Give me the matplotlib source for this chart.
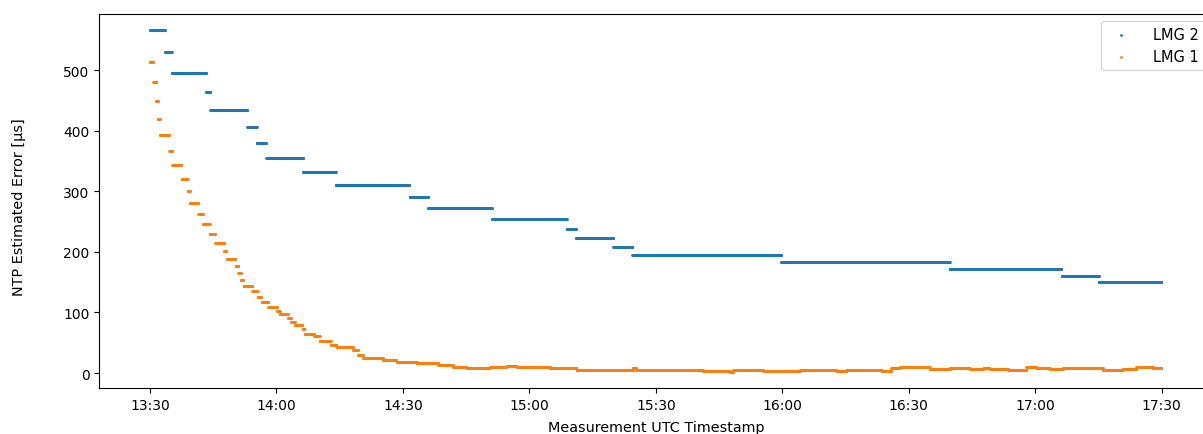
import numpy as np
import pandas as pd
import matplotlib
matplotlib.use("Agg")
import matplotlib.pyplot as plt
import matplotlib.dates as mdates

# step levels: minutes after 13:30 where each level starts, and its value [us]
lmg2_start = [0, 3.6, 5.2, 13.35, 14.35, 23.1, 25.35, 27.6, 36.35, 44.1, 61.6,
              66.0, 81.15, 98.9, 101.05, 109.95, 114.45, 149.75, 189.75, 216.25, 225.15]
lmg2_value = [565.5, 529, 495.5, 463.7, 433.5, 405.4, 379.5, 354.8, 331.7, 310.8, 290.4,
              271.8, 253.6, 238, 222, 208, 194.7, 182.6, 171, 159.6, 149.7]

lmg1_start = [0, 0.8, 1.5, 1.9, 2.4, 4.6, 5.3, 7.5, 9.0, 9.5, 11.5, 12.6, 14.2, 15.5,
              17.6, 18.2, 20.3, 21.0, 21.6, 22.2, 24.3, 25.6, 26.5, 28.1, 30.2, 30.8,
              32.8, 33.5, 34.4, 36.2, 36.7, 39.0, 40.3, 42.9, 44.3, 48.2, 49.4, 50.6,
              55.3, 58.5, 63.3, 68.4, 71.9, 75.1, 80.6, 84.6, 87.0, 94.9, 101.2, 114.6,
              115.4, 131.2, 137.6, 138.4, 145.5, 154.2, 162.9, 165.2, 173.6, 175.9,
              177.9, 185.0, 189.8, 194.5, 197.7, 199.2, 203.6, 207.9, 210.3, 213.5,
              216.6, 226.1, 230.8, 234.0, 237.9]
lmg1_value = [512.7, 479.7, 448.8, 419.6, 392.7, 366.8, 343.7, 320.6, 300.3, 280.5, 262.9,
              245.9, 230, 215, 200.8, 187.6, 176, 165, 154, 144, 134.8, 125.4, 117.7,
              109.4, 102.8, 96.8, 90.3, 84.6, 78.6, 72.6, 64.9, 61, 53.3, 46.7, 42.9,
              38, 29.7, 24.8, 21, 18.7, 16, 12.7, 10.4, 8.7, 10.4, 12, 9.9, 7.7, 5.5,
              7.7, 5.5, 3.8, 2.2, 5, 2.8, 4.4, 2.8, 5.5, 3.3, 7.7, 9.4, 7.1, 8.8, 7.1,
              8.8, 7.1, 5.5, 9.4, 7.7, 6.6, 8.8, 5.5, 7.1, 10.4, 8.2]

t_end = 240.0  # minutes, 17:30
t0 = pd.Timestamp("2023-06-01 13:30:00")


def sample(starts, values):
    # one sample every 3 s, value held from each step start
    t = np.arange(0, t_end, 0.05)
    idx = np.searchsorted(starts, t, side="right") - 1
    times = t0 + pd.to_timedelta(t, unit="m")
    return times, np.asarray(values)[idx]


x2, y2 = sample(lmg2_start, lmg2_value)
x1, y1 = sample(lmg1_start, lmg1_value)

fig = plt.figure(figsize=(12.03, 4.35), dpi=100)
ax = fig.add_axes([0.0826, 0.1051, 0.9251, 0.8611])
ax.scatter(x2, y2, s=1, label="LMG 2")
ax.scatter(x1, y1, s=1, label="LMG 1")

ax.xaxis.set_major_locator(mdates.MinuteLocator(byminute=[0, 30]))
ax.xaxis.set_major_formatter(mdates.DateFormatter("%H:%M"))
ax.set_xlim(t0 - pd.Timedelta(minutes=12), t0 + pd.Timedelta(minutes=252))
ax.set_ylim(-25.2, 593)

ax.set_xlabel("Measurement UTC Timestamp", fontsize=10.4, labelpad=5.5)
ax.set_ylabel("NTP Estimated Error [µs]", fontsize=10.4)
ax.yaxis.set_label_coords(-0.066, 0.485)
ax.legend(loc="upper right", fontsize=10.5, handletextpad=1.2)

fig.savefig("out.png", dpi=100)
